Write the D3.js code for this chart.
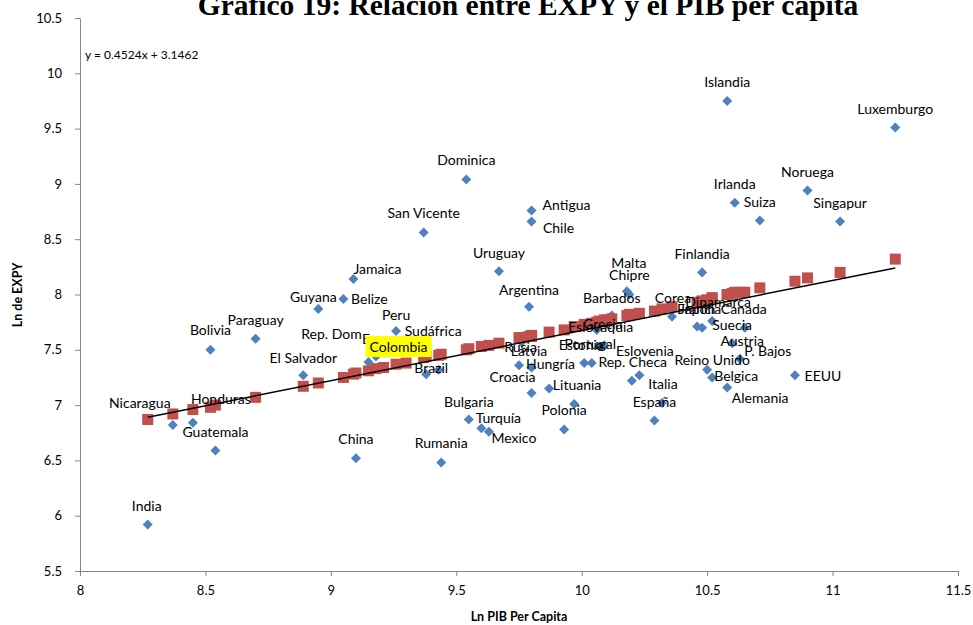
<!DOCTYPE html>
<html>
<head>
<meta charset="utf-8">
<script src="https://cdn.jsdelivr.net/npm/d3@7"></script>
<style>
  body { margin: 0; background: #fff; }
  svg { display: block; }
</style>
</head>
<body>
<svg id="chart"></svg>
<script>
// paises y valores
const countries = ["India", "Nicaragua", "Honduras", "Bolivia", "Guatemala", "Paraguay", "El Salvador", "Guyana",
  "Belize", "Jamaica", "China", "Rep. Dom", "Ecu", "Colombia", "Peru", "Sudáfrica", "San Vicente", "Brazil", "",
  "Rumania", "Dominica", "Bulgaria", "Turquía", "Mexico", "Uruguay", "Latvia", "Rusia", "Argentina", "Hungría",
  "Croacia", "Antigua", "Chile", "Lituania", "Polonia", " ", "  ", "Rep. Checa", "Eslovaquia", "Estonia", "Portugal",
  "Grecia", "Barbados", "Malta", "Chipre", "Eslovenia", "   ", "España", "Italia", "Corea", "Japón", "Francia",
  "Finlandia", "Dinamarca", "Reino Unido", "Suecia", "Belgica", "Alemania", "Islandia", "Austria", "Irlanda",
  "P. Bajos", "Canada", "Suiza", "EEUU", "Noruega", "Singapur", "Luxemburgo"]

const lnPib = [8.27, 8.37, 8.45, 8.52, 8.54, 8.70, 8.89, 8.95,
  9.05, 9.09, 9.10, 9.15, 9.18, 9.21, 9.26, 9.30, 9.37, 9.38, 9.43,
  9.44, 9.54, 9.55, 9.60, 9.63, 9.67, 9.75, 9.76, 9.79, 9.80,
  9.80, 9.80, 9.80, 9.87, 9.93, 9.97, 10.01, 10.04, 10.06, 10.07, 10.09,
  10.10, 10.12, 10.18, 10.19, 10.20, 10.23, 10.29, 10.32, 10.36, 10.46, 10.48,
  10.48, 10.50, 10.50, 10.52, 10.52, 10.58, 10.58, 10.60, 10.61,
  10.63, 10.65, 10.71, 10.85, 10.90, 11.03, 11.25]

const lnExpy = [5.92, 6.82, 6.84, 7.50, 6.59, 7.60, 7.27, 7.87,
  7.96, 8.14, 6.52, 7.39, 7.44, 7.52, 7.67, 7.59, 8.56, 7.28, 7.32,
  6.48, 9.04, 6.87, 6.79, 6.76, 8.21, 7.36, 7.57, 7.89, 7.34,
  7.11, 8.76, 8.66, 7.15, 6.78, 7.01, 7.38, 7.38, 7.68, 7.53, 7.54,
  7.75, 7.81, 8.03, 8.00, 7.22, 7.27, 6.86, 7.02, 7.80, 7.71, 7.70,
  8.20, 7.90, 7.32, 7.76, 7.25, 7.16, 9.75, 7.56, 8.83,
  7.42, 7.70, 8.67, 7.27, 8.94, 8.66, 9.51]

const fittedExpy = [6.87, 6.92, 6.96, 6.98, 7.00, 7.07, 7.17, 7.20,
  7.25, 7.28, 7.29, 7.31, 7.33, 7.34, 7.37, 7.38, 7.43, 7.44, 7.45,
  7.46, 7.50, 7.51, 7.53, 7.54, 7.56, 7.61, 7.61, 7.62, 7.62,
  7.62, 7.63, 7.63, 7.66, 7.68, 7.71, 7.73, 7.74, 7.75, 7.76, 7.77,
  7.77, 7.78, 7.81, 7.82, 7.82, 7.83, 7.85, 7.87, 7.89, 7.93, 7.94,
  7.94, 7.95, 7.95, 7.97, 7.97, 8.00, 8.00, 8.01, 8.02,
  8.02, 8.02, 8.06, 8.12, 8.15, 8.20, 8.32]

const trendX = [8.27, 11.25]
const trendY = [6.89, 8.24]
const equationText = "y = 0.4524x + 3.1462"

const xTicks = [8, 8.5, 9, 9.5, 10, 10.5, 11, 11.5]
const yTicks = [5.5, 6, 6.5, 7, 7.5, 8, 8.5, 9, 9.5, 10, 10.5]

// desplazamiento de cada etiqueta respecto a su punto (px)
const labelOffsets = {
  "India": [-1, -19], "Nicaragua": [-33, -23], "Honduras": [28, -24], "Bolivia": [0, -20],
  "Guatemala": [0, -19], "Paraguay": [0, -19], "El Salvador": [0, -18], "Guyana": [-5, -12],
  "Belize": [26, 0], "Jamaica": [24, -11], "China": [0, -20], "Rep. Dom": [-37, -28],
  "Ecu": [-3, -18], "Colombia": [15, -1], "Peru": [0, -16], "Sudáfrica": [27, -9],
  "San Vicente": [0, -20], "Brazil": [5, -7], "Rumania": [0, -20], "Dominica": [0, -20],
  "Bulgaria": [0, -18], "Turquía": [17, -11], "Mexico": [25, 6], "Uruguay": [0, -19],
  "Latvia": [10, -15], "Rusia": [-1, 4], "Argentina": [0, -17], "Hungría": [19, -4],
  "Croacia": [-19, -16], "Antigua": [35, -6], "Chile": [27, 6], "Lituania": [28, -4],
  "Polonia": [0, -20], "Rep. Checa": [41, -2], "Eslovaquia": [4, -3], "Estonia": [-18, -2],
  "Portugal": [-14, -2], "Grecia": [-4, 1], "Barbados": [0, -18], "Malta": [2, -29],
  "Chipre": [0, -20], "Eslovenia": [13, -30], "España": [0, -19], "Italia": [1, -19],
  "Corea": [1, -19], "Japón": [0, -18], "Francia": [-3, -19], "Finlandia": [0, -19],
  "Dinamarca": [11, -4], "Reino Unido": [5, -10], "Suecia": [20, 3], "Belgica": [24, -2],
  "Alemania": [33, 10], "Islandia": [0, -19], "Austria": [10, -3], "Irlanda": [0, -19],
  "P. Bajos": [28, -8], "Canada": [-1, -19], "Suiza": [0, -19], "EEUU": [28, 0],
  "Noruega": [0, -19], "Singapur": [0, -19], "Luxemburgo": [0, -19]
}

const width = 973
const height = 625
const labelFont = "Lato, 'Open Sans', sans-serif"

const svg = d3.select("#chart")
  .attr("width", width)
  .attr("height", height)

const x = d3.scaleLinear().domain([8, 11.5]).range([80, 958])
const y = d3.scaleLinear().domain([5.5, 10.5]).range([571, 18])

// titulo (cortado arriba como en el original)
svg.append("text")
  .attr("x", 528)
  .attr("y", 15)
  .attr("text-anchor", "middle")
  .style("font-family", "'Liberation Serif', 'Times New Roman', serif")
  .style("font-weight", "bold")
  .style("font-size", "29.5px")
  .text("Gráfico 19: Relación entre EXPY y el PIB per capita")

// ejes
const xAxis = svg.append("g")
  .attr("transform", "translate(0,571)")
  .call(d3.axisBottom(x).tickValues(xTicks).tickSize(5).tickSizeOuter(0).tickFormat(d3.format("")))
const yAxis = svg.append("g")
  .attr("transform", "translate(80,0)")
  .call(d3.axisLeft(y).tickValues(yTicks).tickSize(5).tickSizeOuter(0).tickFormat(d3.format("")))

;[xAxis, yAxis].forEach(function(g) {
  g.selectAll("path, line").attr("stroke", "#868686")
  g.selectAll("text")
    .style("font-family", labelFont)
    .style("font-size", "13px")
    .attr("fill", "#000")
})
xAxis.selectAll("text").attr("dy", "1.2em")
yAxis.selectAll("text").attr("x", -18)

svg.append("text")
  .attr("x", 519)
  .attr("y", 621)
  .attr("text-anchor", "middle")
  .style("font-family", labelFont)
  .style("font-weight", "bold")
  .style("font-size", "12.5px")
  .text("Ln PIB Per Capita")

svg.append("text")
  .attr("transform", "translate(22,295) rotate(-90)")
  .attr("text-anchor", "middle")
  .style("font-family", labelFont)
  .style("font-weight", "bold")
  .style("font-size", "12.5px")
  .text("Ln de EXPY")

svg.append("text")
  .attr("x", 85)
  .attr("y", 59)
  .style("font-family", labelFont)
  .style("font-size", "12px")
  .text(equationText)

const points = countries.map(function(c, i) {
  return { name: c.trim(), px: lnPib[i], ey: lnExpy[i], fy: fittedExpy[i] }
})

// rombos azules: EXPY observado
svg.append("g").selectAll("path")
  .data(points)
  .enter()
  .append("path")
  .attr("d", d3.symbol(d3.symbolDiamond2, 64))
  .attr("transform", function(d) {
    return "translate(" + x(d.px) + "," + y(d.ey) + ")"
  })
  .attr("fill", "#4F81BD")

// cuadrados rojos: EXPY ajustado
svg.append("g").selectAll("rect")
  .data(points)
  .enter()
  .append("rect")
  .attr("x", function(d) { return x(d.px) - 5.5 })
  .attr("y", function(d) { return y(d.fy) - 5.5 })
  .attr("width", 11)
  .attr("height", 11)
  .attr("fill", "#C0504D")

// linea de tendencia
svg.append("line")
  .attr("x1", x(trendX[0]))
  .attr("y1", y(trendY[0]))
  .attr("x2", x(trendX[1]))
  .attr("y2", y(trendY[1]))
  .attr("stroke", "#000")
  .attr("stroke-width", 1.5)

// etiquetas
const labels = svg.append("g")
points.filter(function(d) { return d.name !== "" }).forEach(function(d) {
  let off = labelOffsets[d.name] || [0, -19]
  let lx = x(d.px) + off[0]
  let ly = y(d.ey) + off[1]
  let t = labels.append("text")
    .attr("x", lx)
    .attr("y", ly)
    .attr("text-anchor", "middle")
    .attr("dominant-baseline", "central")
    .style("font-family", labelFont)
    .style("font-size", "14px")
    .attr("fill", "#000")
    .text(d.name)
  if (d.name === "Colombia") {
    let bb = t.node().getBBox()
    labels.insert("rect", function() { return t.node() })
      .attr("x", bb.x - 4)
      .attr("y", bb.y - 2)
      .attr("width", bb.width + 8)
      .attr("height", bb.height + 4)
      .attr("fill", "#FFFF00")
  }
})
</script>
</body>
</html>
